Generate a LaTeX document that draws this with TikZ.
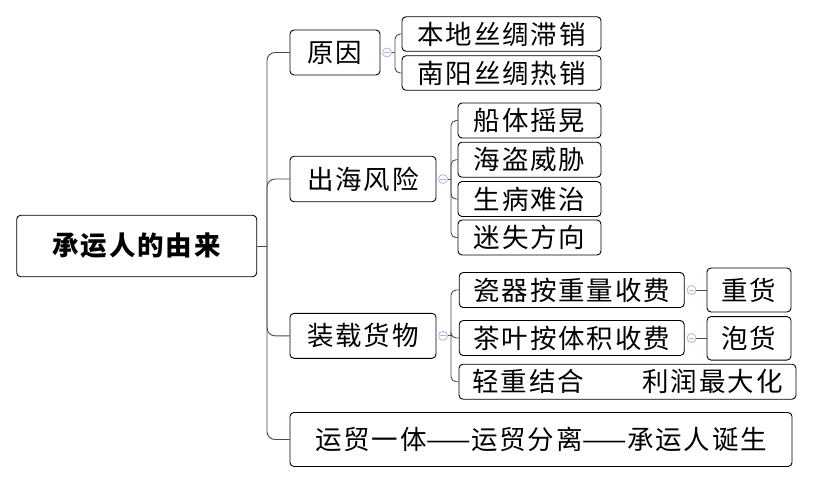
\documentclass[tikz,border=0pt]{standalone}
\usepackage{fontspec}
\newfontfamily\cjk{Noto Sans CJK SC}[LetterSpace=7]
\definecolor{linegray}{HTML}{4A4A4A}
\definecolor{foldblue}{HTML}{A9B9DC}
\newcommand{\dashpair}{{\addfontfeatures{LetterSpace=0}——}}

\begin{document}
\begin{tikzpicture}[x=1pt, y=-1pt,
    every node/.style={font=\cjk\fontsize{26.5}{26.5}\selectfont, text=black},
    topic/.style={rectangle, rounded corners=4pt, draw=black, line width=0.9pt,
        fill=white, inner sep=0pt, align=center},
    link/.style={draw=linegray, line width=0.9pt},
    fold/.style={circle, draw=foldblue, line width=0.8pt, minimum size=9pt, inner sep=0pt,
        path picture={\draw[foldblue, line width=0.8pt]
            ([xshift=-2.8pt]path picture bounding box.center) --
            ([xshift=2.8pt]path picture bounding box.center);}},
]
\useasboundingbox (0,0) rectangle (813,483);

% Root and first level
\node[topic, minimum width=240pt, minimum height=61.5pt, font=\cjk\bfseries\fontsize{26.5}{26.5}\selectfont]
    (root) at (136.7,246) {承运人的由来};
\node[topic, minimum width=90pt, minimum height=45pt] (cause) at (335,52.5) {原因};
\node[topic, minimum width=146pt, minimum height=45.5pt] (risk) at (363,179) {出海风险};
\node[topic, minimum width=146pt, minimum height=45pt] (cargo) at (363,335.8) {装载货物};
\node[topic, minimum width=502pt, minimum height=54pt] (birth) at (541,439.5)
    {运贸一体\dashpair 运贸分离\dashpair 承运人诞生};

\coordinate (trunk) at (267,246);
\draw[link] (root.east) -- (trunk);
\draw[link, rounded corners=8pt] (trunk) |- (cause.west);
\draw[link, rounded corners=8pt] (trunk) |- (risk.west);
\draw[link, rounded corners=8pt] (trunk) |- (cargo.west);
\draw[link, rounded corners=8pt] (trunk) |- (birth.west);

% Causes
\node[topic, minimum width=199pt, minimum height=34.5pt] (c1) at (501.5,34) {本地丝绸滞销};
\node[topic, minimum width=199pt, minimum height=34.5pt] (c2) at (501.5,73) {南阳丝绸热销};
\node[fold] (f1) at (387,52.5) {};
\coordinate (b1) at (395,52.5);
\draw[link] (f1.east) -- (b1);
\draw[link, rounded corners=5pt] (b1) |- (c1.west);
\draw[link, rounded corners=5pt] (b1) |- (c2.west);

% Risks at sea
\node[topic, minimum width=143pt, minimum height=35pt] (r1) at (529.5,120.5) {船体摇晃};
\node[topic, minimum width=143pt, minimum height=35pt] (r2) at (529.5,159.7) {海盗威胁};
\node[topic, minimum width=143pt, minimum height=35pt] (r3) at (529.5,199) {生病难治};
\node[topic, minimum width=143pt, minimum height=35pt] (r4) at (529.5,237.5) {迷失方向};
\node[fold] (f2) at (443,179) {};
\coordinate (b2) at (451,179);
\draw[link] (f2.east) -- (b2);
\draw[link, rounded corners=5pt] (b2) |- (r1.west);
\draw[link, rounded corners=5pt] (b2) |- (r2.west);
\draw[link, rounded corners=5pt] (b2) |- (r3.west);
\draw[link, rounded corners=5pt] (b2) |- (r4.west);

% Loading cargo
\node[topic, minimum width=225pt, minimum height=35pt] (g1) at (571.7,290) {瓷器按重量收费};
\node[topic, minimum width=225pt, minimum height=35pt] (g2) at (571.7,338) {茶叶按体积收费};
\node[topic, minimum width=337pt, minimum height=35pt] (g3) at (627.5,381.7) {轻重结合　　利润最大化};
\node[fold] (f3) at (443,335.8) {};
\coordinate (b3) at (451,335.8);
\draw[link] (f3.east) -- (b3);
\draw[link, rounded corners=5pt] (b3) |- (g1.west);
\draw[link, rounded corners=5pt] (b3) |- (g2.west);
\draw[link, rounded corners=5pt] (b3) |- (g3.west);

\node[topic, minimum width=84pt, minimum height=44pt] (heavy) at (749,290) {重货};
\node[topic, minimum width=84pt, minimum height=43.5pt] (bulky) at (749,338.3) {泡货};
\node[fold] (f4) at (691.5,290) {};
\node[fold] (f5) at (691.5,338) {};
\draw[link] (f4.east) -- (heavy.west |- f4.east);
\draw[link] (f5.east) -- (bulky.west |- f5.east);
\end{tikzpicture}
\end{document}
